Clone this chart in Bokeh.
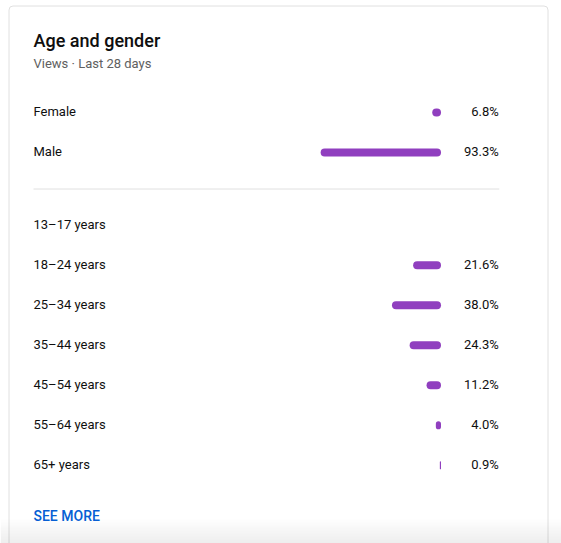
from bokeh.plotting import figure
from bokeh.models import Range1d
from bokeh.core.properties import value
from bokeh.embed import file_html
from bokeh.resources import INLINE

# ---- data ----
title = "Age and gender"
subtitle = "Views · Last 28 days"
gender_labels = ["Female", "Male"]
gender_values = [6.8, 93.3]
age_labels = ["13–17 years", "18–24 years", "25–34 years", "35–44 years",
              "45–54 years", "55–64 years", "65+ years"]
age_values = [None, 21.6, 38.0, 24.3, 11.2, 4.0, 0.9]
link_text = "SEE MORE"

# ---- layout / style ----
W, H = 561, 543
PX_PER_PCT = 1.29
BAR_RIGHT = 440.5
LABEL_X = 33
VALUE_X = 498.3
ROW_GAP = 40
GENDER_TOP = 112
AGE_TOP = 224.8
BAR_H = 8
TEXT_DY = -1
PURPLE = "#903fbf"
TXT = "#0f0f0f"
FONT = "Roboto"
FONT_MED = "Roboto Medium, Roboto"


def px(xp):
    return (xp - BAR_RIGHT) / PX_PER_PCT


p = figure(width=W, height=H, output_backend="svg", toolbar_location=None,
           x_range=Range1d(px(0), px(W)), y_range=Range1d(H, 0),
           min_border=0, min_border_left=0, min_border_right=0,
           min_border_top=0, min_border_bottom=0)
p.axis.visible = False
p.grid.visible = False
p.outline_line_color = None
p.background_fill_color = "white"
p.border_fill_color = "white"

# card
p.quad(left=px(8.5), right=px(547.5), top=5.5, bottom=H + 20,
       fill_color="white", line_color="#e0e0e0", line_width=1, border_radius=4)

# bottom shade
N = 26
for k in range(N):
    p.quad(left=px(0), right=px(W), top=517 + k, bottom=518 + k,
           fill_color="black", fill_alpha=0.07 * (k + 1) / N, line_color=None)

# separator
p.segment(x0=px(LABEL_X), x1=px(VALUE_X + 0.5), y0=188.5, y1=188.5,
          line_color="#e0e0e0", line_width=1)

# rows
labels = gender_labels + age_labels
vals = gender_values + age_values
ys = [GENDER_TOP + i * ROW_GAP for i in range(len(gender_labels))] + \
     [AGE_TOP + i * ROW_GAP for i in range(len(age_labels))]

bar_y = [y for y, v in zip(ys, vals) if v is not None]
bar_v = [v for v in vals if v is not None]
p.hbar(y=bar_y, left=[-v for v in bar_v], right=0, height=BAR_H,
       fill_color=PURPLE, line_color=None, border_radius=4)

p.text(x=[px(LABEL_X)] * len(labels), y=[y + TEXT_DY for y in ys], text=labels,
       text_font=value(FONT), text_font_size="13px", text_color=TXT,
       text_baseline="middle", text_align="left")
p.text(x=[px(VALUE_X)] * len(bar_v), y=[y + TEXT_DY for y in bar_y],
       text=[f"{v:.1f}%" for v in bar_v],
       text_font=value(FONT), text_font_size="13px", text_color=TXT,
       text_baseline="middle", text_align="right")

# header
p.text(x=[px(LABEL_X)], y=[39.5], text=[title], text_font=value(FONT_MED),
       text_font_size="18px", text_color=TXT, text_baseline="middle")
p.text(x=[px(LABEL_X)], y=[64 + TEXT_DY], text=[subtitle], text_font=value(FONT),
       text_font_size="13px", text_color="#606060", text_baseline="middle")

# link
p.text(x=[px(LABEL_X)], y=[516 + TEXT_DY], text=[link_text], text_font=value(FONT_MED),
       text_font_size="14px", text_color="#065fd4", text_baseline="middle")

open("out.html", "w").write(file_html(p, INLINE))
